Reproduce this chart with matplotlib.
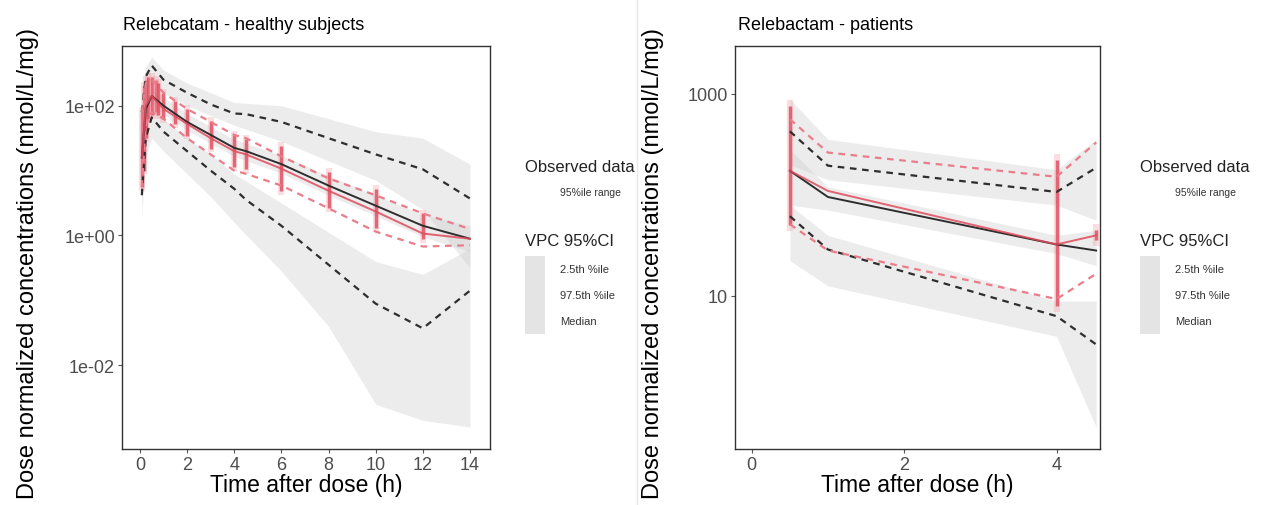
import numpy as np
import matplotlib
matplotlib.use("Agg")
import matplotlib.pyplot as plt
from matplotlib.patches import Rectangle
from matplotlib.lines import Line2D
from matplotlib.ticker import FixedLocator, NullLocator

plt.rcParams['font.family'] = ['Liberation Sans', 'DejaVu Sans']

# ---- healthy subjects (values are log10 of concentration) ----
hs_t = [0.08, 0.25, 0.5, 1, 2, 3, 4, 4.5, 6, 8, 10, 12, 14]
hs_sim_med = [1.2, 1.95, 2.15, 2.0, 1.75, 1.55, 1.35, 1.3, 1.1, 0.77, 0.46, 0.15, -0.05]
hs_sim_hi = [1.9, 2.45, 2.62, 2.4, 2.2, 2.02, 1.88, 1.87, 1.75, 1.5, 1.25, 1.02, 0.57]
hs_sim_lo = [0.62, 1.5, 1.82, 1.6, 1.3, 1.0, 0.72, 0.55, 0.15, -0.45, -1.05, -1.43, -0.85]
hs_obs_med = [1.2, 2.0, 2.15, 1.95, 1.72, 1.5, 1.3, 1.25, 1.03, 0.69, 0.37, 0.03, -0.05]
hs_obs_hi = [1.9, 2.35, 2.4, 2.2, 1.95, 1.75, 1.55, 1.5, 1.22, 0.88, 0.62, 0.34, 0.1]
hs_obs_lo = [0.75, 1.7, 1.9, 1.8, 1.5, 1.25, 1.0, 0.95, 0.77, 0.42, 0.06, -0.17, -0.15]

# VPC confidence areas
hs_ci_t = [0.08, 0.25, 0.5, 1, 2, 3, 4, 6, 8, 10, 12, 14]
hs_ci_hi_lo = [1.5, 2.2, 2.4, 2.2, 2.0, 1.85, 1.7, 1.45, 1.15, 0.85, 0.4, -0.5]
hs_ci_hi_hi = [2.2, 2.6, 2.75, 2.55, 2.35, 2.2, 2.05, 2.0, 1.8, 1.6, 1.5, 1.1]
hs_ci_med_lo = [1.05, 1.8, 2.02, 1.87, 1.62, 1.42, 1.22, 0.96, 0.62, 0.3, -0.02, -0.25]
hs_ci_med_hi = [1.35, 2.1, 2.28, 2.13, 1.88, 1.68, 1.48, 1.24, 0.92, 0.62, 0.32, 0.15]
hs_ci_lo_lo = [0.3, 1.2, 1.5, 1.3, 0.95, 0.6, 0.2, -0.55, -1.4, -2.6, -2.85, -2.95]
hs_ci_lo_hi = [0.9, 1.8, 1.95, 1.8, 1.5, 1.25, 0.95, 0.5, 0.05, -0.4, -0.6, -0.2]

# observed data ranges (red streaks)
hs_pts_t = [0.08, 0.17, 0.25, 0.33, 0.5, 0.67, 0.75, 1.0, 1.5, 2.0, 3.0, 4.0, 4.5, 6.0, 8.0, 10.0, 12.0]
hs_pts_lo = [0.75, 1.0, 1.5, 1.8, 1.85, 1.9, 1.85, 1.8, 1.72, 1.54, 1.34, 1.05, 1.03, 0.68, 0.42, 0.11, -0.05]
hs_pts_hi = [1.9, 2.3, 2.4, 2.45, 2.45, 2.4, 2.35, 2.2, 2.08, 1.95, 1.77, 1.55, 1.49, 1.38, 0.98, 0.72, 0.34]

# ---- patients ----
pt_t = [0.5, 1, 4, 4.52]
pt_sim_med = [2.24, 1.98, 1.51, 1.45]
pt_sim_hi = [2.63, 2.29, 2.03, 2.27]
pt_sim_lo = [1.79, 1.46, 0.80, 0.52]
pt_obs_med = [2.24, 2.04, 1.51, 1.60]
pt_obs_hi = [2.75, 2.42, 2.18, 2.52]
pt_obs_lo = [1.71, 1.45, 0.97, 1.22]

pt_ci_hi_lo = [2.3, 2.15, 1.9, 1.75]
pt_ci_hi_hi = [2.95, 2.55, 2.25, 2.55]
pt_ci_med_lo = [1.9, 1.85, 1.42, 1.3]
pt_ci_med_hi = [2.45, 2.08, 1.6, 1.65]
pt_ci_lo_lo = [1.35, 1.1, 0.6, -0.3]
pt_ci_lo_hi = [1.9, 1.6, 0.95, 0.95]

pt_pts_t = [0.5, 4.0, 4.52]
pt_pts_lo = [1.7, 0.9, 1.55]
pt_pts_hi = [2.88, 2.35, 1.65]

RED = '#e04a5c'
PINK = '#ea7d8a'
DARK = '#2e2e2e'
GREY = '#cfcfcf'


def p(a):
    return 10 ** np.asarray(a, dtype=float)


def draw_panel(ax, t, sim_med, sim_hi, sim_lo, obs_med, obs_hi, obs_lo,
               ci_t, ci, pts_t, pts_lo, pts_hi):
    for lo, hi in ci:
        ax.fill_between(ci_t, p(lo), p(hi), color=GREY, alpha=0.38, lw=0)
    for x, lo, hi in zip(pts_t, pts_lo, pts_hi):
        ax.plot([x, x], p([lo - 0.06, hi + 0.06]), color='#f2a3ad', lw=4.5, alpha=0.35,
                solid_capstyle='butt')
        ax.plot([x, x], p([lo, hi]), color=RED, lw=2.5, alpha=0.8, solid_capstyle='butt')
    ax.plot(t, p(sim_hi), color=DARK, lw=1.6, ls=(0, (3, 2.5)))
    ax.plot(t, p(sim_lo), color=DARK, lw=1.6, ls=(0, (3, 2.5)))
    ax.plot(t, p(obs_hi), color=PINK, lw=1.6, ls=(0, (3, 2.5)))
    ax.plot(t, p(obs_lo), color=PINK, lw=1.6, ls=(0, (3, 2.5)))
    ax.plot(t, p(sim_med), color=DARK, lw=1.4)
    ax.plot(t, p(obs_med), color=RED, lw=1.4, alpha=0.85)
    ax.set_yscale('log')
    for s in ax.spines.values():
        s.set_color('#333333')
        s.set_linewidth(1.0)
    ax.tick_params(axis='both', length=3, width=0.8, color='#555555',
                   labelsize=13, labelcolor='#4d4d4d', pad=2)
    ax.yaxis.set_minor_locator(NullLocator())
    ax.set_xlabel('Time after dose (h)', fontsize=16.5, labelpad=0)
    ax.set_ylabel('Dose normalized concentrations (nmol/L/mg)', fontsize=17, labelpad=4)


def draw_legend(fig, x0):
    W, H = 1270, 506
    fig.text(x0 / W, 1 - 168 / H, 'Observed data', fontsize=12, va='center', color='#222222')
    fig.text((x0 + 35) / W, 1 - 193 / H, '95%ile range', fontsize=7.5, va='center', color='#333333')
    fig.text(x0 / W, 1 - 241 / H, 'VPC 95%CI', fontsize=12, va='center', color='#222222')
    labels = ['2.5th %ile', '97.5th %ile', 'Median']
    for i, lab in enumerate(labels):
        yc = 270 + 26 * i
        fig.patches.append(Rectangle((x0 / W, 1 - (yc + 13) / H), 20 / W, 26 / H,
                                     transform=fig.transFigure, color='#e4e4e4', lw=0))
        fig.text((x0 + 35) / W, 1 - yc / H, lab, fontsize=8, va='center', color='#333333')


fig = plt.figure(figsize=(12.7, 5.06), dpi=100)
W, H = 1270, 506

ax1 = fig.add_axes([122 / W, 1 - 450 / H, 368 / W, 403 / H])
draw_panel(ax1, hs_t, hs_sim_med, hs_sim_hi, hs_sim_lo, hs_obs_med, hs_obs_hi, hs_obs_lo,
           hs_ci_t, [(hs_ci_hi_lo, hs_ci_hi_hi), (hs_ci_med_lo, hs_ci_med_hi), (hs_ci_lo_lo, hs_ci_lo_hi)],
           hs_pts_t, hs_pts_lo, hs_pts_hi)
ax1.set_xlim(-0.76, 14.85)
ax1.set_ylim(10 ** -3.29, 10 ** 2.92)
ax1.set_xticks([0, 2, 4, 6, 8, 10, 12, 14])
ax1.yaxis.set_major_locator(FixedLocator([1e-2, 1, 1e2]))
ax1.set_yticklabels(['1e-02', '1e+00', '1e+02'])
ax1.yaxis.set_label_coords(-0.225, 0.463)
fig.text(123 / W, 1 - 25 / H, 'Relebcatam - healthy subjects', fontsize=13, va='center')

ax2 = fig.add_axes([735 / W, 1 - 450 / H, 365 / W, 403 / H])
draw_panel(ax2, pt_t, pt_sim_med, pt_sim_hi, pt_sim_lo, pt_obs_med, pt_obs_hi, pt_obs_lo,
           pt_t, [(pt_ci_hi_lo, pt_ci_hi_hi), (pt_ci_med_lo, pt_ci_med_hi), (pt_ci_lo_lo, pt_ci_lo_hi)],
           pt_pts_t, pt_pts_lo, pt_pts_hi)
ax2.set_xlim(-0.22, 4.57)
ax2.set_ylim(10 ** -0.515, 10 ** 3.475)
ax2.set_xticks([0, 2, 4])
ax2.yaxis.set_major_locator(FixedLocator([10, 1000]))
ax2.set_yticklabels(['10', '1000'])
ax2.yaxis.set_label_coords(-0.195, 0.463)
fig.text(738 / W, 1 - 25 / H, 'Relebactam - patients', fontsize=13, va='center')

draw_legend(fig, 525)
draw_legend(fig, 1140)

fig.add_artist(Line2D([637 / W, 637 / W], [0, 1], color='#e6e6e6', lw=1, transform=fig.transFigure))

fig.savefig('out.png', dpi=100)
